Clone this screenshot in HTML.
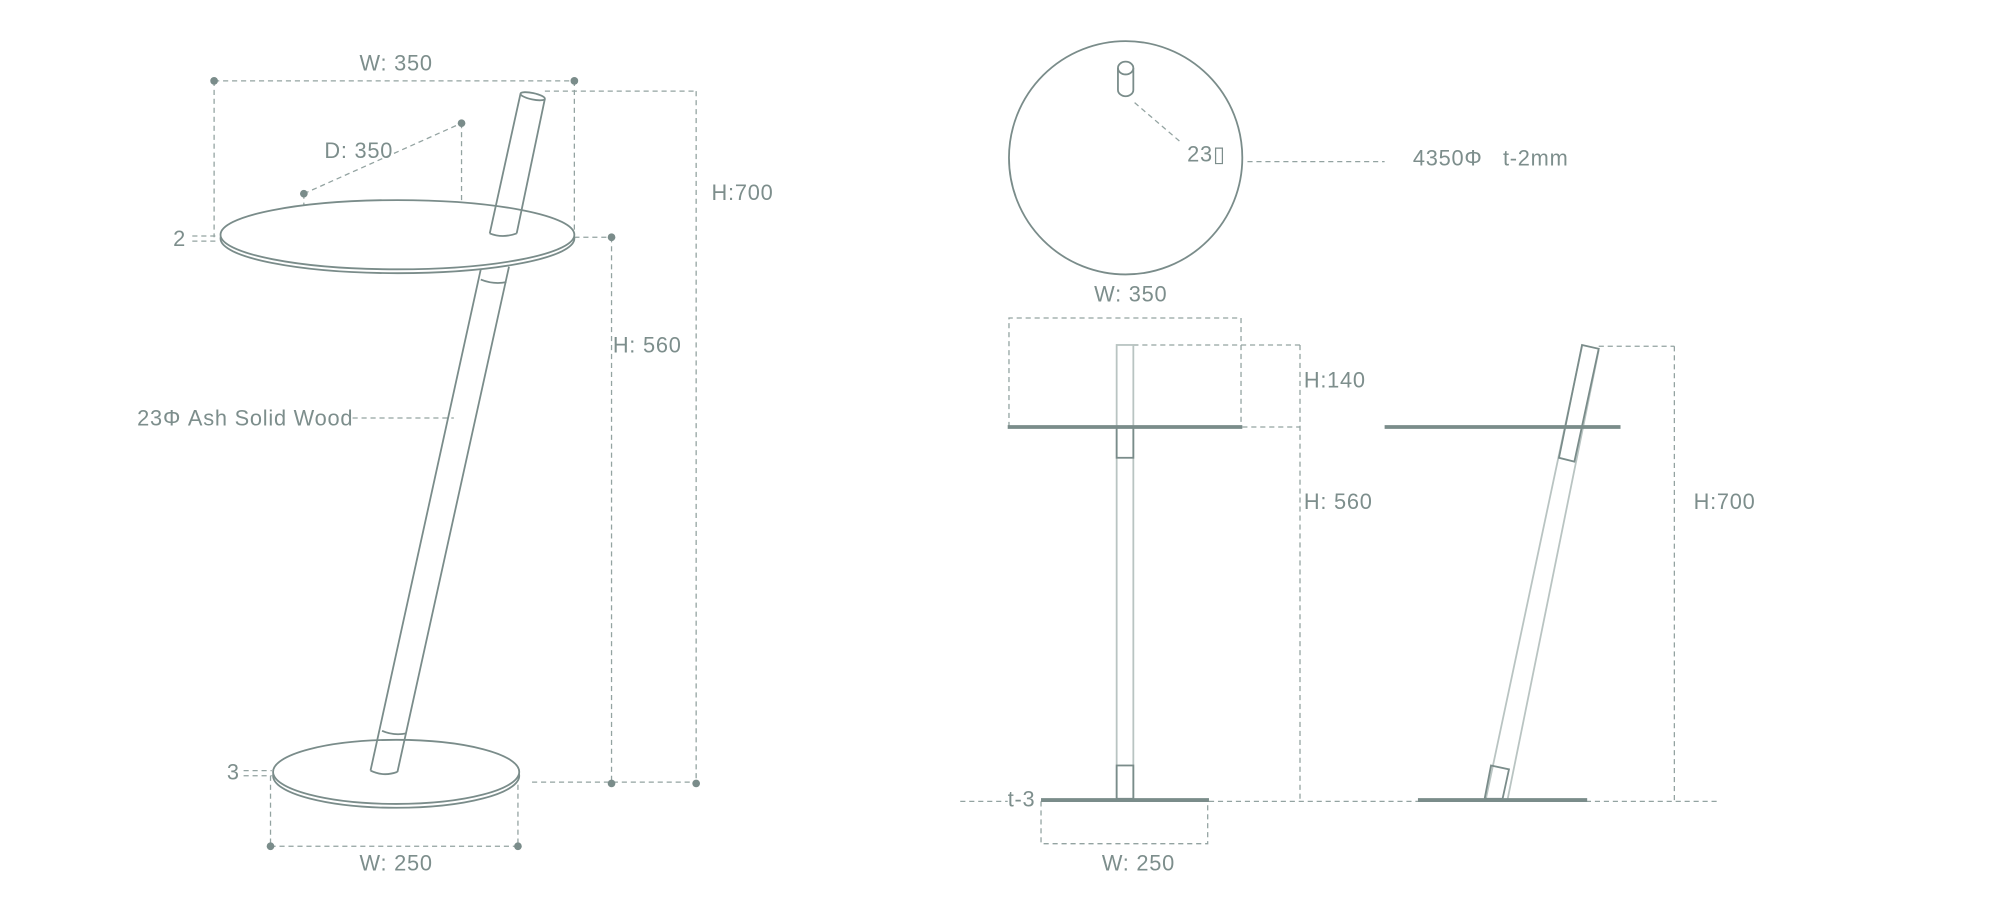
<!DOCTYPE html>
<html><head><meta charset="utf-8"><style>
html,body{margin:0;padding:0;background:#fff;}
svg{display:block;}
text{font-family:"Liberation Sans","DejaVu Sans",sans-serif;font-size:17px;letter-spacing:0.6px;fill:#7d8e8c;}
</style></head><body>
<svg width="2000" height="913" viewBox="0 0 1560 712" xmlns="http://www.w3.org/2000/svg">
<g fill="none" stroke="#93a3a1" stroke-width="1" stroke-dasharray="4,3">
<line x1="167" y1="63" x2="448" y2="63"/>
<line x1="167" y1="63" x2="167" y2="185"/>
<line x1="448" y1="63" x2="448" y2="185"/>
<line x1="237" y1="151" x2="360" y2="96"/>
<line x1="360" y1="96" x2="360" y2="157"/>
<line x1="237" y1="151" x2="237" y2="203"/>
<line x1="425" y1="71" x2="543" y2="71"/>
<line x1="543" y1="71" x2="543" y2="611"/>
<line x1="448" y1="185" x2="477" y2="185"/>
<line x1="477" y1="185" x2="477" y2="611"/>
<line x1="415" y1="610" x2="543" y2="610"/>
<line x1="150" y1="184" x2="170" y2="184"/>
<line x1="150" y1="188" x2="170" y2="188"/>
<line x1="190" y1="601" x2="212" y2="601"/>
<line x1="190" y1="605" x2="212" y2="605"/>
<line x1="275" y1="326" x2="354" y2="326"/>
<line x1="211" y1="605" x2="211" y2="660"/>
<line x1="404" y1="605" x2="404" y2="660"/>
<line x1="211" y1="660" x2="404" y2="660"/>
<line x1="885" y1="80" x2="920" y2="110"/>
<line x1="973" y1="126" x2="1080" y2="126"/>
<polyline points="787,333 787,248 968,248 968,333"/>
<line x1="884" y1="269" x2="1014" y2="269"/>
<line x1="969" y1="333" x2="1014" y2="333"/>
<line x1="1014" y1="269" x2="1014" y2="624"/>
<line x1="943" y1="625" x2="1342" y2="625"/>
<line x1="749" y1="625" x2="786" y2="625"/>
<polyline points="812,625 812,658 942,658 942,625"/>
<line x1="1247" y1="270" x2="1306" y2="270"/>
<line x1="1306" y1="270" x2="1306" y2="624"/>
</g>
<g fill="#7a8c8a">
<circle cx="167" cy="63" r="3"/><circle cx="448" cy="63" r="3"/>
<circle cx="237" cy="151" r="3"/><circle cx="360" cy="96" r="3"/>
<circle cx="477" cy="185" r="3"/><circle cx="477" cy="611" r="3"/><circle cx="543" cy="611" r="3"/>
<circle cx="211" cy="660" r="3"/><circle cx="404" cy="660" r="3"/>
</g>
<g fill="#fff" stroke="#7a8c8a" stroke-width="1.4">
<ellipse cx="310" cy="186" rx="138" ry="27"/>
<ellipse cx="310" cy="183" rx="138" ry="27"/>
<ellipse cx="309" cy="605" rx="96" ry="25"/>
<ellipse cx="309" cy="602" rx="96" ry="25"/>
</g>
<g fill="none" stroke="#7a8c8a" stroke-width="1.4">
<line x1="406" y1="73" x2="382" y2="182"/>
<line x1="425" y1="77" x2="403" y2="182"/>
<ellipse cx="415.5" cy="75" rx="9.7" ry="2.5" transform="rotate(12 415.5 75)"/>
<path d="M382,182 Q392,186 403,182"/>
<line x1="375" y1="210" x2="289" y2="601"/>
<line x1="397" y1="208" x2="310" y2="602"/>
<path d="M375,218 Q385,222 395,220"/>
<path d="M298,570 Q307,574 317,572"/>
<path d="M289,601 Q299,606 310,602"/>
<circle cx="878" cy="123" r="91"/>
<path d="M872,53 L872,70 A6,5 0 0 0 884,70 L884,53"/>
<ellipse cx="878" cy="53" rx="6" ry="5"/>
</g>
<g fill="none" stroke="#b9c4c2" stroke-width="1.4">
<rect x="871" y="269" width="13" height="354"/>
<line x1="1234" y1="270" x2="1159" y2="623"/>
<line x1="1247" y1="273" x2="1176" y2="623"/>
</g>
<g fill="none" stroke="#7a8c8a" stroke-width="1.4">
<rect x="871" y="333" width="13" height="24"/>
<rect x="871" y="597" width="13" height="26"/>
<polygon points="1234,269 1247,272 1228,360 1216,357"/>
<polygon points="1163,597 1177,600 1172,623 1158,623"/>
</g>
<g stroke="#7a8c8a" stroke-width="3">
<line x1="786" y1="333" x2="969" y2="333"/>
<line x1="812" y1="624" x2="943" y2="624"/>
<line x1="1080" y1="333" x2="1264" y2="333"/>
<line x1="1106" y1="624" x2="1238" y2="624"/>
</g>
<g>
<text x="309" y="55" text-anchor="middle">W: 350</text>
<text x="253" y="123">D: 350</text>
<text x="555" y="156">H:700</text>
<text x="478" y="275">H: 560</text>
<text x="135" y="192">2</text>
<text x="177" y="608">3</text>
<text x="107" y="332">23Φ Ash Solid Wood</text>
<text x="309" y="679" text-anchor="middle">W: 250</text>
<text x="926" y="126">23▯</text>
<text x="1102" y="129">4350Φ&#160;&#160;&#160;t-2mm</text>
<text x="882" y="235" text-anchor="middle">W: 350</text>
<text x="1017" y="302">H:140</text>
<text x="1017" y="397">H: 560</text>
<text x="1321" y="397">H:700</text>
<text x="786" y="629">t-3</text>
<text x="888" y="679" text-anchor="middle">W: 250</text>
</g>
</svg>
</body></html>
